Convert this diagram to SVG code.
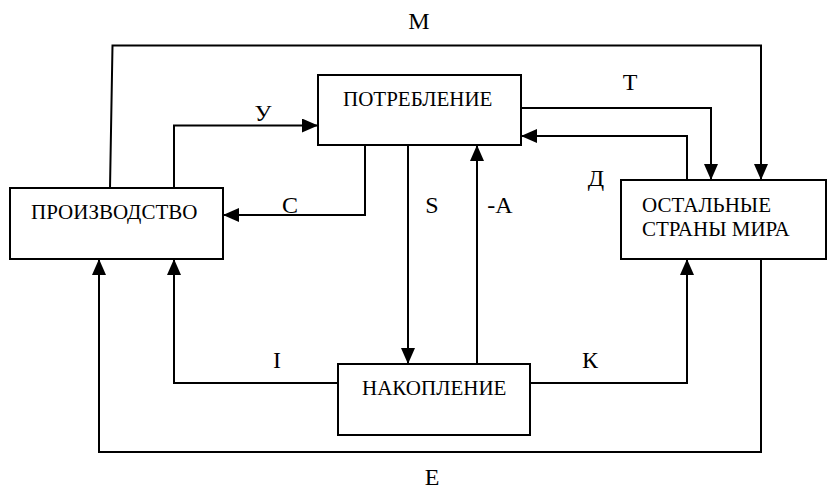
<svg xmlns="http://www.w3.org/2000/svg" width="828" height="490" viewBox="0 0 828 490">
<style>
.box{fill:#fff;stroke:#000;stroke-width:2}
.ln{fill:none;stroke:#000;stroke-width:2;stroke-linejoin:miter}
.nt{font-family:"Liberation Serif","DejaVu Serif",serif;font-size:21px;fill:#000}
.lb{font-family:"Liberation Serif","DejaVu Serif",serif;font-size:24px;fill:#000}
</style>
<defs>
<marker id="ah" markerUnits="userSpaceOnUse" markerWidth="16" markerHeight="14" refX="16" refY="7" orient="auto">
<path d="M0,0 L16,7 L0,14 Z" fill="#000"/>
</marker>
</defs>
<g id="connectors">
<path class="ln" d="M110,188 L112.5,45.5 L761,45.5 L761,180" marker-end="url(#ah)"/>
<path class="ln" d="M174,188 L174,125.5 L318,125.5" marker-end="url(#ah)"/>
<path class="ln" d="M365,145 L365,215 L223,215" marker-end="url(#ah)"/>
<path class="ln" d="M408,145 L408,364" marker-end="url(#ah)"/>
<path class="ln" d="M477,364 L477,145" marker-end="url(#ah)"/>
<path class="ln" d="M521,108 L711,108 L711,180" marker-end="url(#ah)"/>
<path class="ln" d="M687,180 L687,136 L521,136" marker-end="url(#ah)"/>
<path class="ln" d="M338,383 L174,383 L174,259" marker-end="url(#ah)"/>
<path class="ln" d="M530,383 L687,383 L687,259" marker-end="url(#ah)"/>
<path class="ln" d="M761,259 L761,452 L99,452 L99,259" marker-end="url(#ah)"/>
<text class="lb" x="419" y="29" text-anchor="middle">М</text>
<text class="lb" x="263" y="121" text-anchor="middle">У</text>
<text class="lb" x="290" y="213" text-anchor="middle">С</text>
<text class="lb" x="432" y="213" text-anchor="middle">S</text>
<text class="lb" x="500" y="213" text-anchor="middle">-А</text>
<text class="lb" x="630" y="90" text-anchor="middle">Т</text>
<text class="lb" x="596" y="186" text-anchor="middle">Д</text>
<text class="lb" x="277" y="368" text-anchor="middle">I</text>
<text class="lb" x="590" y="368" text-anchor="middle">К</text>
<text class="lb" x="432" y="485" text-anchor="middle">Е</text>
</g>
<g id="proizvodstvo">
<rect class="box" x="10" y="188" width="213" height="71"/>
<text class="nt" x="31" y="219">ПРОИЗВОДСТВО</text>
</g>
<g id="potreblenie">
<rect class="box" x="318" y="75" width="203" height="70"/>
<text class="nt" x="343" y="106">ПОТРЕБЛЕНИЕ</text>
</g>
<g id="ostalnye">
<rect class="box" x="621" y="180" width="205" height="79"/>
<text class="nt" x="642" y="212">ОСТАЛЬНЫЕ</text>
<text class="nt" x="642" y="236">СТРАНЫ МИРА</text>
</g>
<g id="nakoplenie">
<rect class="box" x="338" y="364" width="192" height="71"/>
<text class="nt" x="362" y="395">НАКОПЛЕНИЕ</text>
</g>
</svg>
